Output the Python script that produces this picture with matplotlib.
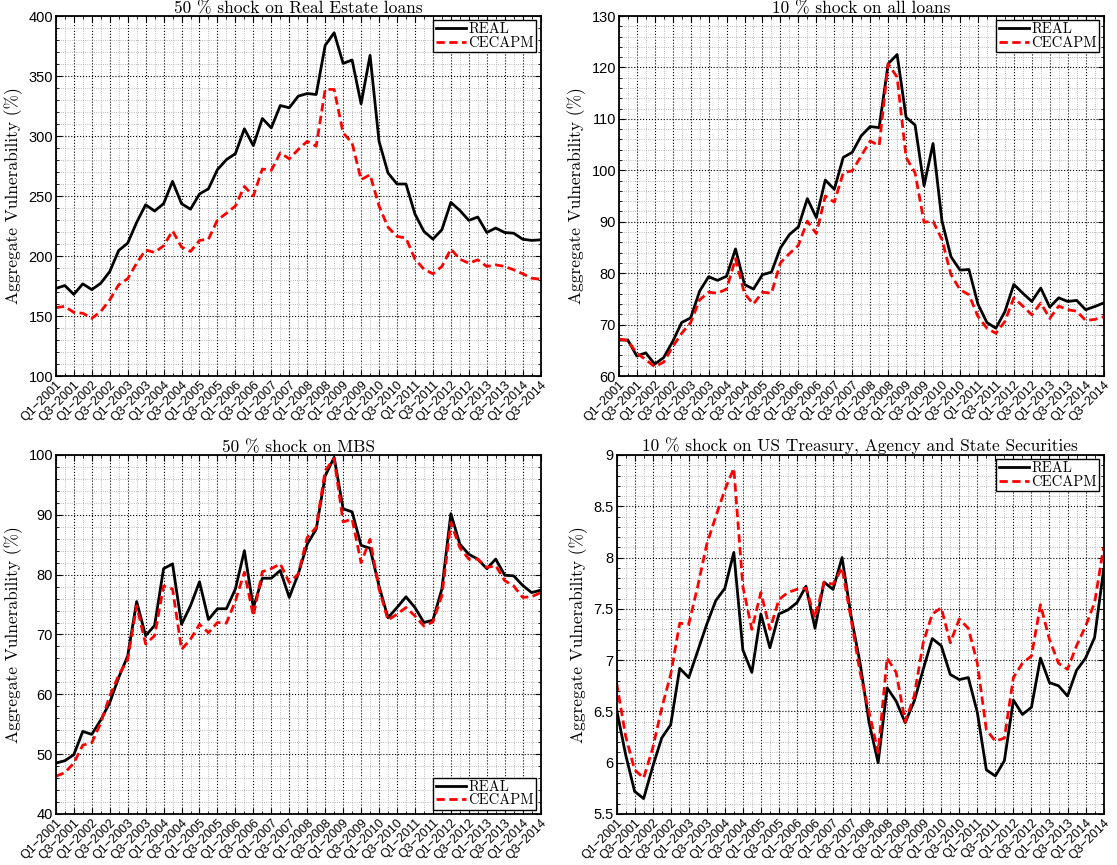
import matplotlib
matplotlib.use("Agg")
import matplotlib.pyplot as plt
from matplotlib.ticker import MultipleLocator, AutoMinorLocator, FuncFormatter
import numpy as np

# quarterly axis Q1-2001 .. Q3-2014
quarters = ["Q%d" % q + "\u2212" + str(y) for y in range(2001, 2015) for q in (1, 2, 3, 4)][:55]

# 50 % shock on Real Estate loans
re_real = [173, 175.4, 168, 176.8, 172, 177.3, 187, 204.6, 210.7, 228, 242.7, 237.5, 243.6, 262.2,
           243.6, 239, 251.7, 256, 272, 280.3, 285.3, 306, 292, 314.6, 306.8, 325.4, 323.5, 333.2,
           335.4, 334.6, 375.5, 386, 360.5, 363.3, 326.8, 367.2, 295.6, 269.2, 260, 260, 235, 220.5,
           214.1, 221.9, 244.7, 238, 229.7, 232.5, 219.6, 223.3, 219.6, 219, 214, 213, 213.5]
re_cecapm = [157, 158, 153, 152.3, 148.1, 153.7, 163.4, 176, 181, 194, 205, 203, 208.5, 221,
             207.5, 203.8, 213, 214, 230, 235.6, 241.7, 258, 250, 272.5, 271.4, 286, 281, 288.7,
             295.6, 291.5, 338.8, 338.8, 302.6, 294.2, 263.6, 267.8, 241.7, 224, 216.3, 215, 197.4, 189,
             185.2, 191.3, 205.8, 197.4, 194, 196.8, 191.3, 192.6, 191.3, 188.5, 185.2, 181.5, 180.7]

# 10 % shock on all loans
al_real = [67, 67, 63.9, 64.5, 62.3, 63.6, 66.7, 70.4, 71.3, 76.5, 79.3, 78.6, 79.4, 84.7,
           77.8, 76.9, 79.7, 80.2, 84.9, 87.5, 89, 94.5, 90.8, 98.1, 96.3, 102.5, 103.5, 106.7,
           108.5, 108.3, 120.7, 122.5, 110.3, 108.8, 97, 105.2, 90.1, 83.2, 80.6, 80.7, 74, 70.4,
           69.3, 72.5, 77.8, 76.1, 74.5, 77.1, 73.4, 75.2, 74.5, 74.7, 72.9, 73.5, 74.2]
al_cecapm = [67.2, 66.9, 64.4, 63.2, 61.8, 62.7, 65.7, 68.3, 70.4, 74.8, 76.3, 76.1, 76.9, 82.8,
             76, 74, 76.3, 76.1, 82, 83.8, 85.4, 90.1, 87.7, 95, 93.8, 99.5, 99.9, 102.8,
             105.7, 104.8, 120.7, 118.1, 102.5, 99.5, 89.9, 90.1, 86.5, 79.7, 76.8, 75.8, 71.6, 69.3,
             68.3, 70.6, 75.2, 73.6, 71.9, 74.2, 71.2, 73.6, 72.9, 72.6, 70.8, 71, 71.5]

# 50 % shock on MBS
mbs_real = [48.5, 48.9, 49.9, 53.8, 53.3, 55.7, 58.6, 62.8, 66.4, 75.5, 69.8, 71.5, 81, 81.8,
            71.7, 74.8, 78.8, 72.5, 74.3, 74.3, 77.6, 84, 74.5, 79.4, 79.4, 80.7, 76.2, 80.1,
            85.1, 87.6, 96.5, 99.6, 91, 90.5, 84.9, 84.4, 78.1, 72.8, 74.5, 76.3, 74.5, 72,
            72.4, 77.6, 90.2, 85.1, 83.4, 82.6, 81, 82.6, 79.9, 79.8, 78.2, 77, 77.4]
mbs_cecapm = [46.3, 46.9, 48.5, 51.5, 51.9, 55.2, 59.7, 63.2, 65.8, 74.8, 68.4, 69.8, 78.1, 77.6,
              67.5, 69.2, 71.7, 70.3, 72, 71.9, 75.6, 80.4, 73.1, 80.5, 81, 81.8, 78.7, 80.1,
              86.2, 87.9, 97.4, 99.4, 88.8, 89.3, 82, 85.9, 77.6, 72.4, 73.4, 74.5, 73.1, 71.4,
              72.1, 76.5, 88.7, 84.5, 82.6, 82.6, 81.2, 81.5, 79, 78.1, 76.2, 76.3, 77]

# 10 % shock on US Treasury, Agency and State Securities
us_real = [6.52, 6.08, 5.72, 5.65, 5.96, 6.24, 6.37, 6.92, 6.83, 7.09, 7.35, 7.58, 7.70, 8.05,
           7.10, 6.88, 7.45, 7.12, 7.45, 7.49, 7.56, 7.72, 7.31, 7.76, 7.69, 8.0, 7.43, 6.97,
           6.39, 6.0, 6.73, 6.6, 6.39, 6.6, 6.91, 7.21, 7.14, 6.86, 6.81, 6.83, 6.49, 5.93,
           5.87, 6.02, 6.61, 6.47, 6.54, 7.02, 6.78, 6.75, 6.65, 6.9, 7.02, 7.22, 7.88]
us_cecapm = [6.78, 6.26, 5.93, 5.85, 6.14, 6.53, 6.86, 7.36, 7.35, 7.72, 8.13, 8.40, 8.66, 8.87,
             7.72, 7.30, 7.66, 7.30, 7.59, 7.66, 7.69, 7.70, 7.41, 7.76, 7.74, 7.90, 7.40, 6.88,
             6.49, 6.10, 7.02, 6.88, 6.40, 6.65, 7.17, 7.45, 7.51, 7.17, 7.40, 7.31, 6.97, 6.32,
             6.21, 6.24, 6.83, 6.97, 7.04, 7.54, 7.20, 6.97, 6.91, 7.14, 7.33, 7.56, 8.10]

panels = [
    ("50 % shock on Real Estate loans", re_real, re_cecapm, (100, 400), 50, "upper right"),
    ("10 % shock on all loans", al_real, al_cecapm, (60, 130), 10, "upper right"),
    ("50 % shock on MBS", mbs_real, mbs_cecapm, (40, 100), 10, "lower right"),
    ("10 % shock on US Treasury, Agency and State Securities", us_real, us_cecapm, (5.5, 9), 0.5, "upper right"),
]
positions = [
    [0.050, 0.5653, 0.434, 0.4162],
    [0.554, 0.5653, 0.434, 0.4162],
    [0.050, 0.0590, 0.434, 0.4150],
    [0.552, 0.0590, 0.436, 0.4150],
]

serif = "cmr10"
tickfont = "Liberation Sans"

fig = plt.figure(figsize=(11.17, 8.65), dpi=100)
x = np.arange(len(quarters))

for (title, real, cecapm, ylim, ystep, loc), pos in zip(panels, positions):
    ax = fig.add_axes(pos)
    ax.plot(x, real, color="black", lw=2.0, label="REAL")
    ax.plot(x, cecapm, color="red", lw=2.0, ls=(0, (3.0, 1.6)), label="CECAPM")
    ax.set_xlim(0, len(quarters) - 1)
    ax.set_ylim(*ylim)
    ax.xaxis.set_major_locator(MultipleLocator(2))
    ax.xaxis.set_minor_locator(MultipleLocator(1))
    ax.yaxis.set_major_locator(MultipleLocator(ystep))
    ax.yaxis.set_minor_locator(AutoMinorLocator(5))
    ax.set_xticks(x[::2])
    ax.set_xticklabels(quarters[::2], rotation=45, ha="right", va="top",
                       rotation_mode="anchor", fontsize=9, family=tickfont)
    ax.yaxis.set_major_formatter(FuncFormatter(lambda v, p: "%g" % v))
    for lab in ax.get_yticklabels():
        lab.set_family(tickfont)
        lab.set_fontsize(10.5)
    ax.tick_params(which="both", direction="in", top=True, right=True)
    ax.tick_params(which="major", length=4, width=0.8, pad=2)
    ax.tick_params(which="minor", length=2, width=0.6)
    ax.grid(which="major", ls=":", color="black", lw=0.8)
    ax.grid(which="minor", ls=":", color="0.65", lw=0.6)
    for s in ax.spines.values():
        s.set_linewidth(1.3)
    ax.set_title(title, family=serif, fontsize=12.5, pad=0.5)
    ax.set_ylabel("Aggregate Vulnerability (%)", family=serif, fontsize=12.5, labelpad=4)
    leg = ax.legend(loc=loc, prop={"family": serif, "size": 10.5}, fancybox=False,
                    framealpha=1, edgecolor="black", borderaxespad=0.3, handlelength=2.1,
                    handletextpad=0.15, labelspacing=0.0, borderpad=0.15)
    leg.get_frame().set_linewidth(1.0)

fig.savefig("out.png", dpi=100)
